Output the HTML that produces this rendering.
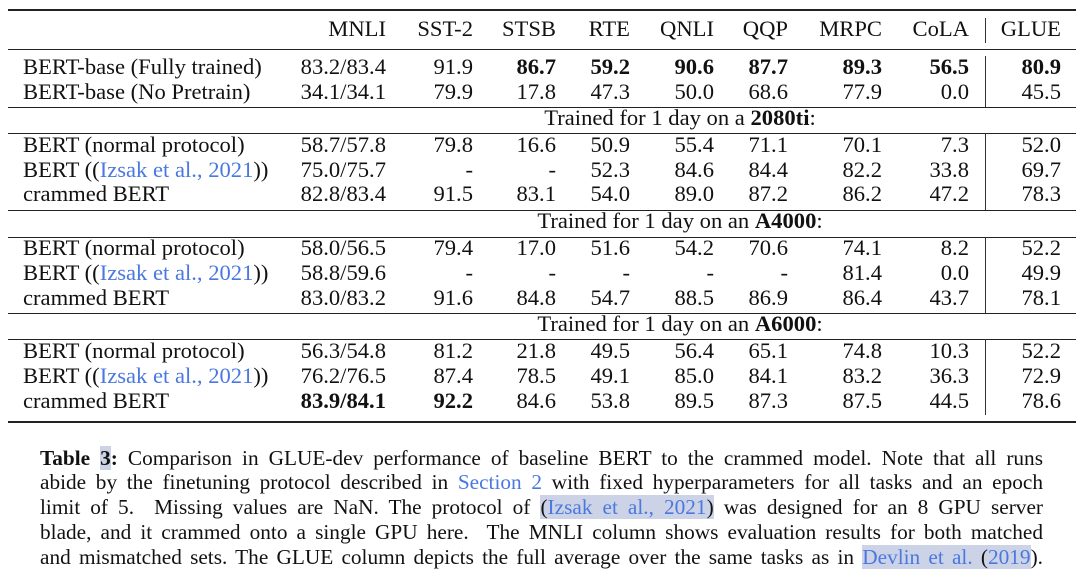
<!DOCTYPE html>
<html><head><meta charset="utf-8">
<style>
body{margin:0;width:1091px;height:585px;background:#fff;position:relative;overflow:hidden;font-family:"Liberation Serif",serif;color:#111;}
.t{position:absolute;font-size:22.6px;line-height:24px;white-space:nowrap;}
.r{text-align:right;}
.rule{position:absolute;left:8px;width:1068px;background:#222;}
.v{position:absolute;left:985px;width:1px;background:#333;}
a,.lk{color:#4a78e0;text-decoration:none;}
.cap{position:absolute;left:40px;width:1003px;font-size:21.3px;line-height:24px;text-align:justify;text-align-last:justify;white-space:nowrap;}
.hl{background:#cdd3e6;}
</style></head><body>
<div id="tbl"></div>
<div class="cap" style="top:446px"><b>Table <span class="hl">3</span>:</b> Comparison in GLUE-dev performance of baseline BERT to the crammed model. Note that all runs</div>
<div class="cap" style="top:470px">abide by the finetuning protocol described in <span class="lk">Section 2</span> with fixed hyperparameters for all tasks and an epoch</div>
<div class="cap" style="top:495px">limit of 5.&nbsp; Missing values are NaN. The protocol of <span class="hl">(<span class="lk">Izsak et al., 2021</span>)</span> was designed for an 8 GPU server</div>
<div class="cap" style="top:520px">blade, and it crammed onto a single GPU here.&nbsp; The MNLI column shows evaluation results for both matched</div>
<div class="cap" style="top:545px">and mismatched sets. The GLUE column depicts the full average over the same tasks as in <span class="hl"><span class="lk">Devlin et al.</span> (<span class="lk">2019</span></span>).</div>
<script>
const headers=["MNLI","SST-2","STSB","RTE","QNLI","QQP","MRPC","CoLA","GLUE"];
const colRight=[386,473,556,630,714,788,882,969,1061];
const rowsLabels=["BERT-base (Fully trained)","BERT-base (No Pretrain)","BERT (normal protocol)","IZSAK","crammed BERT","BERT (normal protocol)","IZSAK","crammed BERT","BERT (normal protocol)","IZSAK","crammed BERT"];
const rowsValues=[
["83.2/83.4","91.9","86.7","59.2","90.6","87.7","89.3","56.5","80.9"],
["34.1/34.1","79.9","17.8","47.3","50.0","68.6","77.9","0.0","45.5"],
["58.7/57.8","79.8","16.6","50.9","55.4","71.1","70.1","7.3","52.0"],
["75.0/75.7","-","-","52.3","84.6","84.4","82.2","33.8","69.7"],
["82.8/83.4","91.5","83.1","54.0","89.0","87.2","86.2","47.2","78.3"],
["58.0/56.5","79.4","17.0","51.6","54.2","70.6","74.1","8.2","52.2"],
["58.8/59.6","-","-","-","-","-","81.4","0.0","49.9"],
["83.0/83.2","91.6","84.8","54.7","88.5","86.9","86.4","43.7","78.1"],
["56.3/54.8","81.2","21.8","49.5","56.4","65.1","74.8","10.3","52.2"],
["76.2/76.5","87.4","78.5","49.1","85.0","84.1","83.2","36.3","72.9"],
["83.9/84.1","92.2","84.6","53.8","89.5","87.3","87.5","44.5","78.6"]];
const boldCells=[[0,2],[0,3],[0,4],[0,5],[0,6],[0,7],[0,8],[10,0],[10,1]];
const rowY=[67,92,145,170,194,248,273,298,351,376,401];
const sections=[["Trained for 1 day on a ","2080ti",":",118],["Trained for 1 day on an ","A4000",":",221],["Trained for 1 day on an ","A6000",":",324]];
const rules=[[9,2],[49,1],[107,1],[133,1],[210,1],[237,1],[313,1],[339,1],[421,2]];
const vsegs=[[18,43],[56,107],[133,210],[237,313],[339,415]];
const tbl=document.getElementById('tbl');
function add(html,cls,style){const d=document.createElement('div');d.className=cls;d.style.cssText=style;d.innerHTML=html;tbl.appendChild(d);return d;}
rules.forEach(r=>{const d=add('','rule','top:'+r[0]+'px;height:'+r[1]+'px');

});
vsegs.forEach(s=>{const d=add('','v','top:'+s[0]+'px;height:'+(s[1]-s[0])+'px');

});
headers.forEach((h,i)=>{const d=add(h,'t r','right:'+(1091-colRight[i])+'px;top:'+(29-12)+'px');

});
rowsLabels.forEach((l,ri)=>{
 const html=l==="IZSAK"?'BERT ((<span class="lk">Izsak et al., 2021</span>))':l;
 const d=add(html,'t','left:23px;top:'+(rowY[ri]-12)+'px');
 
 
 rowsValues[ri].forEach((v,ci)=>{
  const b=boldCells.some(c=>c[0]===ri&&c[1]===ci);
  const c=add(b?'<b>'+v+'</b>':v,'t r','right:'+(1091-colRight[ci])+'px;top:'+(rowY[ri]-12)+'px');
  
  
 });
});
sections.forEach(s=>{const d=add(s[0]+'<b>'+s[1]+'</b>'+s[2],'t','left:680px;transform:translateX(-50%);top:'+(s[3]-12)+'px');

});
</script>
</body></html>
